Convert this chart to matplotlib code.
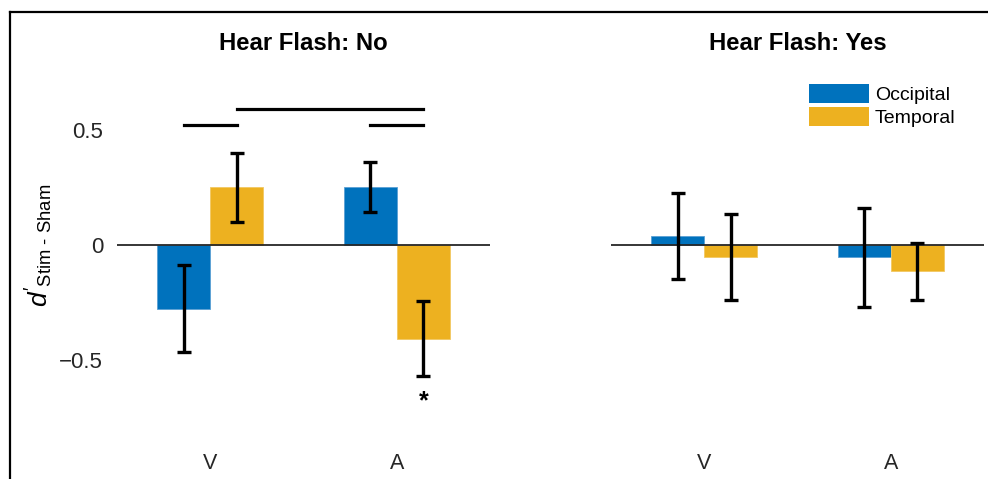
import matplotlib
matplotlib.use('Agg')
import matplotlib.pyplot as plt
import numpy as np
from matplotlib.lines import Line2D
from matplotlib.patches import Patch

plt.rcParams['font.family'] = ['Liberation Sans', 'DejaVu Sans']
plt.rcParams['mathtext.fontset'] = 'custom'
plt.rcParams['mathtext.rm'] = 'Liberation Sans'
plt.rcParams['mathtext.it'] = 'Liberation Sans:italic'

# data (d' Stim - Sham)
groups = ['V', 'A']
series = ['Occipital', 'Temporal']
panel_titles = ['Hear Flash: No', 'Hear Flash: Yes']
no_occ = [-0.277, 0.252]
no_temp = [0.250, -0.407]
no_occ_err = [0.189, 0.109]
no_temp_err = [0.148, 0.163]
yes_occ = [0.040, -0.053]
yes_temp = [-0.051, -0.115]
yes_occ_err = [0.187, 0.215]
yes_temp_err = [0.187, 0.124]

blue = '#0072BD'
orange = '#EDB120'
W, H = 988, 479
fig = plt.figure(figsize=(W / 100, H / 100), dpi=100)

x = np.arange(1, len(groups) + 1)
bw = 0.285
panels = [(no_occ, no_temp, no_occ_err, no_temp_err),
          (yes_occ, yes_temp, yes_occ_err, yes_temp_err)]
lefts = [117 / W, 611 / W]
axes = []
for i, (occ, temp, oe, te) in enumerate(panels):
    ax = fig.add_axes([lefts[i], 1 - 429 / H, 373 / W, 368 / H])
    ax.bar(x - bw / 2, occ, bw, color=blue, edgecolor='#5aa0d4', linewidth=0.6)
    ax.bar(x + bw / 2, temp, bw, color=orange, edgecolor='#f2c862', linewidth=0.6)
    ax.errorbar(x - bw / 2, occ, yerr=oe, fmt='none', ecolor='black',
                elinewidth=2.4, capsize=4.8, capthick=2.4)
    ax.errorbar(x + bw / 2, temp, yerr=te, fmt='none', ecolor='black',
                elinewidth=2.4, capsize=4.8, capthick=2.4)
    ax.axhline(0, color='#262626', lw=1.3, zorder=1)
    ax.set_xlim(0.5, 2.5)
    ax.set_ylim(-0.8, 0.8)
    ax.set_xticks(x)
    ax.set_xticklabels(groups, fontsize=15.5, color='#262626')
    ax.tick_params(axis='x', length=0, pad=17)
    for s in ax.spines.values():
        s.set_visible(False)
    ax.set_title(panel_titles[i], fontsize=17.2, fontweight='bold', pad=8)
    axes.append(ax)

ax = axes[0]
ax.set_yticks([-0.5, 0, 0.5])
ax.set_yticklabels(['\u22120.5', '0', '0.5'], fontsize=16, color='#262626')
ax.tick_params(axis='y', length=0, pad=10)
ax.set_ylabel(r"$d'_{\text{Stim - Sham}}$", fontsize=19)
ax.yaxis.set_label_coords(-0.165, 0.5)
axes[1].set_yticks([])

# significance lines
sig = [(1 - bw / 2, 1 + bw / 2, 0.522), (1 + bw / 2, 2 + bw / 2, 0.591),
       (2 - bw / 2, 2 + bw / 2, 0.522)]
for x0, x1, yy in sig:
    ax.plot([x0, x1], [yy, yy], color='black', lw=2.3, clip_on=False)
ax.text(2 + bw / 2, -0.68, '*', ha='center', va='center', fontsize=18,
        fontweight='bold')

axes[1].legend(handles=[Patch(facecolor=blue), Patch(facecolor=orange)],
               labels=series, loc='upper right', bbox_to_anchor=(0.95, 0.965),
               frameon=False, fontsize=14, handlelength=3.1, handleheight=1.15,
               handletextpad=0.3, labelspacing=0.15, borderpad=0)

# outer frame (top and left)
fig.add_artist(Line2D([10 / W, 1], [1 - 12 / H, 1 - 12 / H], color='black', lw=1.6))
fig.add_artist(Line2D([10 / W, 10 / W], [0, 1 - 12 / H], color='black', lw=1.6))

fig.savefig('out.png', dpi=100)
